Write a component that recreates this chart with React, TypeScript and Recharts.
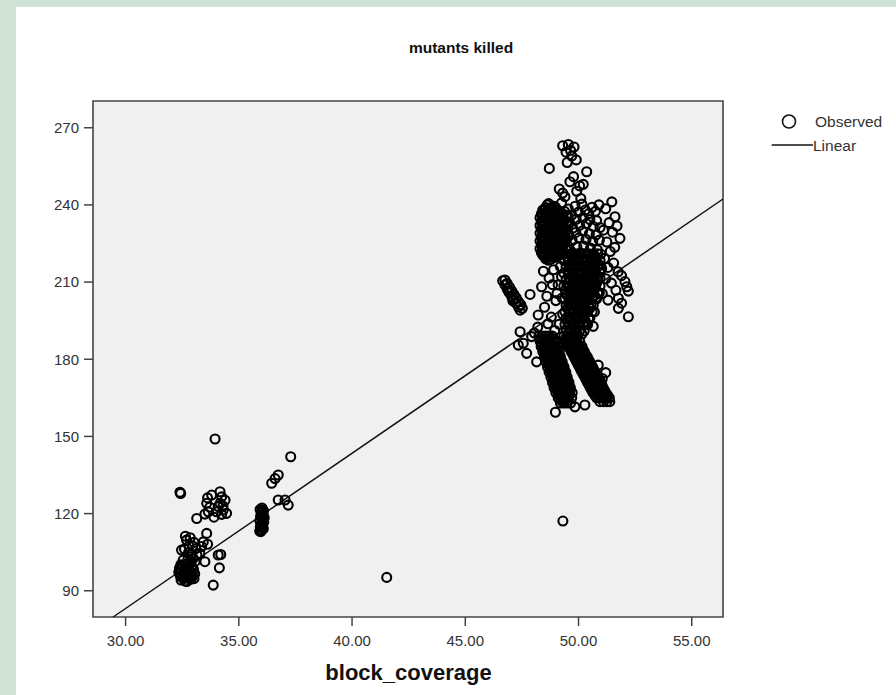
import { ComposedChart, Scatter, XAxis, YAxis, CartesianGrid, ReferenceArea, ReferenceLine } from "recharts";

type Pt = [number, number];

// axis ticks and ranges
const xTicks = [30, 35, 40, 45, 50, 55];
const yTicks = [90, 120, 150, 180, 210, 240, 270];
const xDomain: [number, number] = [28.56, 56.38];
const yDomain: [number, number] = [79.8, 280.4];

// fitted linear line, read at plot edges
const linearFit: { x: number; y: number }[] = [
  { x: 29.45, y: 79.8 },
  { x: 56.38, y: 242.3 },
];

// observed points, by cluster
const lowCluster: Pt[] = [
  [32.35, 97.2], [32.42, 95.6], [32.48, 98.3], [32.52, 96.4], [32.56, 94.7], [32.6, 97.6], [32.66, 99.1],
  [32.7, 95.3], [32.76, 96.9], [32.8, 98.6], [32.86, 94.4], [32.9, 97.1], [32.5, 99.6], [32.63, 93.8],
  [32.95, 95.9], [33.0, 98.2], [32.4, 96.7], [32.73, 100.6], [32.58, 96.1], [32.83, 96.0], [32.45, 94.2],
  [32.68, 97.9], [32.92, 99.4], [33.05, 96.5], [32.38, 98.8], [32.55, 95.2], [32.78, 94.9], [32.62, 100.2],
  [32.88, 100.9], [32.44, 100.1], [33.02, 94.7], [32.7, 93.6],
  [32.54, 101.9], [32.99, 102.6], [32.91, 94.8], [32.47, 105.8], [32.69, 109.7], [32.6, 106.2], [32.78, 104.9],
  [32.88, 103.1], [33.02, 108.8], [32.75, 102.2], [33.1, 106.4], [32.85, 110.6], [33.07, 101.4], [32.96, 107.4],
  [33.15, 103.9], [32.64, 111.2], [32.8, 107.3],
  [33.43, 109], [33.58, 112.3], [33.28, 104.5], [33.5, 101.3], [34.09, 103.9], [34.2, 104.1], [34.14, 98.9],
  [33.87, 92.2], [33.35, 107.2], [33.62, 108.1],
];

const upperLeftCluster: Pt[] = [
  [32.4, 128.3], [32.43, 127.8],
  [33.8, 127.2], [34.17, 128.5], [34.24, 126.5], [33.58, 124], [33.65, 120.7], [33.5, 119.8], [34.09, 122.7],
  [34.31, 121.4], [34.46, 120.1], [34.24, 119.7], [34.02, 120.7], [33.14, 118.1], [33.72, 122.5], [34.39, 125.2],
  [34.17, 124], [33.62, 126.1], [34.3, 122.9], [33.9, 118.6],
];

const column36: Pt[] = [
  [35.92, 113.2], [36.0, 113.6], [36.08, 114.1], [35.95, 114.8], [36.05, 115.3], [35.98, 116.0], [36.1, 116.6],
  [35.93, 117.2], [36.03, 117.8], [36.12, 118.4], [35.96, 119.0], [36.06, 119.7], [35.99, 120.4], [36.09, 121.0],
  [35.94, 121.6], [36.02, 122.2], [36.0, 115.0], [36.07, 119.1], [35.97, 113.0], [36.04, 121.4],
  [36.45, 131.8], [36.6, 133.6], [36.74, 135], [36.74, 125.3], [37.04, 125.3], [37.18, 123.3], [37.29, 142.1],
];

const outliers: Pt[] = [[33.95, 149], [41.53, 95.2], [49.31, 117.1]];

const rightTop: Pt[] = [
  [49.3, 263], [49.55, 263.5], [49.8, 262.5], [49.45, 260.5], [49.7, 259], [49.5, 256.5], [49.9, 257.5],
  [49.65, 261.2], [50.36, 252.9], [49.62, 249], [50.21, 248], [49.4, 243.2], [48.71, 254.2], [49.15, 246.2],
  [49.3, 244.6], [49.92, 245.3], [50.05, 247.4], [49.25, 240.8], [49.78, 251], [50.1, 242.5],
];

// dense blob around (48.9, 229): x -> y values
const blobAColumns: [number, number[]][] = [
  [48.3, [223, 226, 229, 232, 235]],
  [48.36, [221.5, 224.5, 227.5, 230.5, 233.5, 236.5]],
  [48.42, [220.5, 222, 224, 226, 228, 230, 232, 234, 236, 238]],
  [48.49, [220, 223, 226, 229, 232, 235, 238]],
  [48.55, [219, 221, 223, 225, 227, 229, 231, 233, 235, 237, 239]],
  [48.62, [219.5, 222.5, 225.5, 228.5, 231.5, 234.5, 237.5, 240]],
  [48.68, [218.5, 220.5, 222.5, 224.5, 226.5, 228.5, 230.5, 232.5, 234.5, 236.5, 238.5, 240.5]],
  [48.74, [220, 223, 226, 229, 232, 235, 238]],
  [48.8, [219, 221, 223, 225, 227, 229, 231, 233, 235, 237, 239]],
  [48.86, [220, 223, 226, 229, 232, 235, 238]],
  [48.92, [219.5, 221.5, 223.5, 225.5, 227.5, 229.5, 231.5, 233.5, 235.5, 237.5, 239.5]],
  [48.99, [221, 224, 227, 230, 233, 236, 239]],
  [49.05, [220, 222, 224, 226, 228, 230, 232, 234, 236, 238]],
  [49.12, [221.5, 224.5, 227.5, 230.5, 233.5, 236.5]],
  [49.18, [220.5, 222.5, 224.5, 226.5, 228.5, 230.5, 232.5, 234.5, 236.5]],
  [49.24, [223, 226, 229, 232, 235]],
  [49.3, [222, 224, 226, 228, 230, 232, 234, 236.5]],
  [49.38, [221, 225, 228, 231, 234, 237.5]],
  [49.46, [222.5, 226.5, 230, 233, 236]],
  [49.54, [224, 228.5, 232, 235.5]],
];

const columnB: Pt[] = [
  [49.55, 238.4], [49.7, 236.1], [49.85, 239.5], [50.0, 237.2], [50.15, 240.3], [50.3, 238.0], [50.45, 236.6],
  [50.6, 239.1], [50.75, 237.5], [50.9, 240.0],
  [49.6, 233.2], [49.75, 231.0], [49.9, 234.4], [50.05, 232.1], [50.2, 235.0], [50.35, 232.7], [50.5, 234.3],
  [50.65, 231.6], [50.8, 233.9], [50.95, 231.2],
  [49.58, 228.0], [49.72, 226.1], [49.88, 229.3], [50.02, 227.2], [50.18, 229.9], [50.33, 226.6], [50.48, 228.8],
  [50.63, 225.9], [50.78, 228.4], [50.92, 226.3],
  [49.62, 222.5], [49.78, 220.4], [49.93, 223.7], [50.08, 221.3], [50.23, 224.0], [50.38, 221.0], [50.53, 223.2],
  [50.68, 220.2], [50.83, 222.6], [50.98, 220.9],
  [49.68, 217.1], [49.83, 215.2], [49.98, 218.3], [50.13, 216.1], [50.28, 218.6], [50.43, 215.5], [50.58, 217.8],
  [50.73, 214.9], [50.88, 217.0], [51.02, 215.3],
  [49.75, 211.6], [49.9, 209.8], [50.05, 212.7], [50.2, 210.4], [50.35, 213.0], [50.5, 209.9], [50.65, 212.2],
  [50.8, 209.5], [50.95, 211.4],
  [49.72, 206.3], [49.87, 204.1], [50.02, 207.2], [50.17, 205.0], [50.32, 207.7], [50.47, 204.6], [50.62, 206.8],
  [50.77, 203.9], [50.92, 205.8],
  [49.65, 200.9], [49.8, 198.7], [49.95, 201.8], [50.1, 199.4], [50.25, 202.1], [50.4, 199.0], [50.55, 201.3],
  [50.7, 198.4],
  [49.6, 195.4], [49.75, 193.2], [49.9, 196.3], [50.05, 194.0], [50.2, 196.8], [50.35, 193.5], [50.5, 195.9],
  [50.65, 192.8],
];

// dense core of the right column: y -> x values
const columnBRows: [number, number[]][] = [
  [221, [49.45, 49.65, 49.85, 50.05, 50.25, 50.45, 50.65, 50.85]],
  [219.8, [49.55, 49.75, 49.95, 50.15, 50.35, 50.55, 50.75]],
  [218.5, [49.35, 49.55, 49.75, 49.95, 50.15, 50.35, 50.55, 50.75, 50.95]],
  [216, [49.45, 49.65, 49.85, 50.05, 50.25, 50.45, 50.65, 50.85]],
  [214.8, [49.55, 49.75, 49.95, 50.15, 50.35, 50.55, 50.75, 50.95]],
  [213.5, [49.35, 49.55, 49.75, 49.95, 50.15, 50.35, 50.55, 50.75, 50.95]],
  [211, [49.45, 49.65, 49.85, 50.05, 50.25, 50.45, 50.65, 50.85]],
  [209.8, [49.55, 49.75, 49.95, 50.15, 50.35, 50.55, 50.75]],
  [208.5, [49.35, 49.55, 49.75, 49.95, 50.15, 50.35, 50.55, 50.75, 50.95]],
  [206, [49.45, 49.65, 49.85, 50.05, 50.25, 50.45, 50.65, 50.85]],
  [204.8, [49.5, 49.7, 49.9, 50.1, 50.3, 50.5, 50.7]],
  [203.5, [49.4, 49.6, 49.8, 50.0, 50.2, 50.4, 50.6, 50.8]],
  [201, [49.45, 49.65, 49.85, 50.05, 50.25, 50.45, 50.65]],
  [199.8, [49.5, 49.7, 49.9, 50.1, 50.3, 50.5]],
  [198.5, [49.4, 49.6, 49.8, 50.0, 50.2, 50.4, 50.6]],
  [196, [49.45, 49.65, 49.85, 50.05, 50.25, 50.45]],
  [194.8, [49.5, 49.7, 49.9, 50.1, 50.3]],
  [193.5, [49.4, 49.6, 49.8, 50.0, 50.2, 50.4]],
  [191, [49.45, 49.65, 49.85, 50.05, 50.25]],
  [189.8, [49.55, 49.75, 49.95, 50.15]],
];

const rightSide: Pt[] = [
  [51.47, 241.2], [51.61, 235.4], [51.83, 227], [51.2, 238.5], [51.35, 233.1], [51.1, 230.2], [51.5, 229.4],
  [51.7, 231.8], [51.25, 225.6], [51.4, 221.9], [51.6, 223.5], [51.15, 219.2], [51.3, 215.7], [51.55, 217.4],
  [51.75, 214], [51.2, 211.3], [51.45, 209.6], [51.65, 206.8], [52.13, 208.2], [52.2, 206.5], [52.2, 196.5],
  [51.76, 203.7], [51.76, 199.8], [51.9, 201.8], [51.05, 205.5], [51.3, 203.0], [51.9, 212.5], [52.05, 210.2],
];

// left lower arm: y -> x values
const leftArmRows: [number, number[]][] = [
  [189, [48.25, 48.4, 48.55, 48.7, 48.85]],
  [188, [48.3, 48.45, 48.6, 48.75, 48.9]],
  [187, [48.3, 48.45, 48.6, 48.75, 48.9, 49.0]],
  [186, [48.37, 48.52, 48.67, 48.82, 48.97]],
  [185, [48.35, 48.5, 48.65, 48.8, 48.95, 49.08]],
  [184, [48.45, 48.6, 48.75, 48.9, 49.05]],
  [183, [48.42, 48.57, 48.72, 48.87, 49.02, 49.15]],
  [182, [48.52, 48.67, 48.82, 48.97, 49.12]],
  [181, [48.5, 48.64, 48.78, 48.92, 49.06, 49.2]],
  [180, [48.6, 48.75, 48.9, 49.05, 49.2]],
  [179, [48.56, 48.7, 48.85, 49.0, 49.14, 49.28]],
  [178, [48.67, 48.82, 48.97, 49.12, 49.27]],
  [177, [48.63, 48.78, 48.93, 49.08, 49.22, 49.36]],
  [176, [48.74, 48.89, 49.04, 49.19, 49.34]],
  [175, [48.7, 48.85, 49.0, 49.15, 49.3, 49.44]],
  [174, [48.82, 48.97, 49.12, 49.27, 49.42]],
  [173, [48.78, 48.92, 49.07, 49.22, 49.36, 49.5]],
  [172, [48.89, 49.04, 49.19, 49.34, 49.49]],
  [171, [48.85, 49.0, 49.15, 49.3, 49.44, 49.58]],
  [170, [48.96, 49.11, 49.26, 49.41, 49.56]],
  [169, [48.92, 49.07, 49.22, 49.37, 49.52, 49.64]],
  [168, [49.04, 49.19, 49.34, 49.49, 49.63]],
  [167, [49.0, 49.15, 49.3, 49.45, 49.6, 49.72]],
  [166, [49.12, 49.27, 49.42, 49.57]],
  [165, [49.1, 49.25, 49.4, 49.55, 49.7]],
  [164, [49.22, 49.37, 49.52]],
  [163, [49.2, 49.35, 49.5, 49.65]],
];

// right lower arm: y -> x values
const rightArmRows: [number, number[]][] = [
  [189, [49.35, 49.5, 49.65, 49.8, 49.95]],
  [188, [49.42, 49.57, 49.72, 49.87]],
  [187, [49.45, 49.6, 49.75, 49.9, 50.05]],
  [186, [49.52, 49.67, 49.82, 49.97]],
  [185, [49.55, 49.7, 49.85, 50.0, 50.15]],
  [184, [49.62, 49.76, 49.9, 50.04, 50.18]],
  [183, [49.68, 49.82, 49.96, 50.1, 50.25]],
  [182, [49.74, 49.88, 50.02, 50.16, 50.3]],
  [181, [49.8, 49.94, 50.08, 50.22, 50.38]],
  [180, [49.86, 50.0, 50.14, 50.28, 50.43]],
  [179, [49.92, 50.06, 50.2, 50.34, 50.5]],
  [178, [49.98, 50.12, 50.26, 50.4, 50.55]],
  [177, [50.04, 50.18, 50.32, 50.46, 50.62]],
  [176, [50.1, 50.24, 50.38, 50.52, 50.67]],
  [175, [50.15, 50.3, 50.44, 50.58, 50.74]],
  [174, [50.22, 50.36, 50.5, 50.64, 50.8]],
  [173, [50.28, 50.42, 50.56, 50.7, 50.86]],
  [172, [50.34, 50.48, 50.62, 50.76, 50.92]],
  [171, [50.4, 50.54, 50.68, 50.82, 50.98]],
  [170, [50.46, 50.6, 50.74, 50.88, 51.03]],
  [169, [50.52, 50.66, 50.8, 50.94, 51.08]],
  [168, [50.58, 50.72, 50.86, 51.0, 51.14]],
  [167, [50.64, 50.78, 50.92, 51.06, 51.2]],
  [166, [50.72, 50.86, 51.0, 51.14, 51.28]],
  [165, [50.8, 50.94, 51.08, 51.22, 51.36]],
  [163.5, [50.95, 51.1, 51.25, 51.38]],
];

const armExtras: Pt[] = [
  [48.98, 159.4], [49.84, 161.5], [50.28, 162.2], [51.05, 172.5], [51.2, 174.8], [50.87, 177.7], [50.5, 177.1],
  [48.2, 192.5], [48.05, 190.2],
];

const leftEdge: Pt[] = [
  [46.65, 210.5], [46.75, 208.9], [46.85, 207.3], [46.95, 205.8], [47.05, 204.4], [47.15, 203.1], [47.25, 201.7],
  [47.35, 200.3], [47.42, 199.1], [46.9, 206.5], [47.1, 202.7],
  [46.75, 210.8], [46.85, 209.5], [46.95, 208.0], [47.05, 206.6], [47.15, 205.2], [47.25, 203.8], [47.35, 202.4],
  [47.45, 201.2], [47.52, 199.8],
  [47.86, 205.2], [48.37, 208.2], [48.22, 197.2], [47.42, 190.7], [47.56, 186.2], [47.71, 182.3], [48.15, 179],
  [47.34, 185.5], [47.93, 188.8], [48.6, 204.5], [48.5, 200.2], [48.8, 196.4], [49.0, 202.8], [48.7, 211.6],
  [49.1, 208.9], [48.9, 214.8], [49.25, 212.1], [48.45, 214.2], [49.3, 197.5], [49.15, 193.6], [48.95, 191.2],
  [48.65, 193.8], [49.2, 216.0], [49.05, 205.6], [49.28, 203.8], [48.85, 209.0],
];

const fromColumns = (cols: [number, number[]][]): Pt[] => cols.flatMap(([x, ys]) => ys.map((y) => [x, y] as Pt));
const fromRows = (rows: [number, number[]][]): Pt[] => rows.flatMap(([y, xs]) => xs.map((x) => [x, y] as Pt));

const observed = [
  ...lowCluster, ...upperLeftCluster, ...column36, ...outliers, ...rightTop,
  ...fromColumns(blobAColumns), ...columnB, ...fromRows(columnBRows), ...rightSide,
  ...fromRows(leftArmRows), ...fromRows(rightArmRows), ...armExtras, ...leftEdge,
].map(([x, y]) => ({ x, y }));

const FONT = "'Liberation Sans', Arial, sans-serif";

const Ring = (props: any) => {
  const { cx, cy } = props;
  if (cx == null || cy == null) return <g />;
  return <circle cx={cx} cy={cy} r={4.5} fill="none" stroke="#000" strokeWidth={2.1} />;
};

export default function App() {
  return (
    <div style={{ position: "absolute", left: 0, top: 0, width: 896, height: 695, background: "#cfe2d5", overflow: "hidden" }}>
      <div style={{ position: "absolute", left: 16, top: 7, width: 880, height: 688, background: "#fff" }} />
      <div style={{ position: "absolute", left: 0, top: 0 }}>
        <ComposedChart width={896} height={695} margin={{ top: 101, right: 173, bottom: 48, left: 33 }}>
          <CartesianGrid horizontal={false} vertical={false} fill="#f0f0f0" />
          <XAxis
            type="number"
            dataKey="x"
            domain={xDomain}
            allowDataOverflow
            ticks={xTicks}
            tickFormatter={(v: number) => v.toFixed(2)}
            height={30}
            axisLine={false}
            tickSize={9}
            tickMargin={9}
            tickLine={{ stroke: "#444", strokeWidth: 1.5 }}
            tick={{ fill: "#333", fontSize: 15, fontFamily: FONT }}
          />
          <YAxis
            type="number"
            dataKey="y"
            domain={yDomain}
            allowDataOverflow
            ticks={yTicks}
            width={60}
            axisLine={false}
            tickSize={9}
            tickMargin={5}
            tickLine={{ stroke: "#444", strokeWidth: 1.5 }}
            tick={{ fill: "#333", fontSize: 15, fontFamily: FONT }}
          />
          <Scatter data={observed} shape={Ring} isAnimationActive={false} />
          <ReferenceLine segment={linearFit} stroke="#111" strokeWidth={1.5} />
          <ReferenceArea
            x1={xDomain[0]}
            x2={xDomain[1]}
            y1={yDomain[0]}
            y2={yDomain[1]}
            fill="none"
            stroke="#444"
            strokeWidth={1.6}
          />
        </ComposedChart>
      </div>
      <svg width={896} height={695} style={{ position: "absolute", left: 0, top: 0, pointerEvents: "none" }}>
        <text x={461} y={53} textAnchor="middle" fontFamily={FONT} fontWeight="bold" fontSize={15.5} fill="#111">
          mutants killed
        </text>
        <text x={408.5} y={680} textAnchor="middle" fontFamily={FONT} fontWeight="bold" fontSize={22} fill="#111">
          block_coverage
        </text>
        <circle cx={789} cy={121.5} r={6.5} fill="none" stroke="#111" strokeWidth={1.6} />
        <text x={815} y={127} fontFamily={FONT} fontSize={15.5} fill="#333">Observed</text>
        <line x1={771.7} y1={145} x2={813} y2={145} stroke="#111" strokeWidth={1.5} />
        <text x={813} y={150.5} fontFamily={FONT} fontSize={15.5} fill="#333">Linear</text>
      </svg>
    </div>
  );
}
